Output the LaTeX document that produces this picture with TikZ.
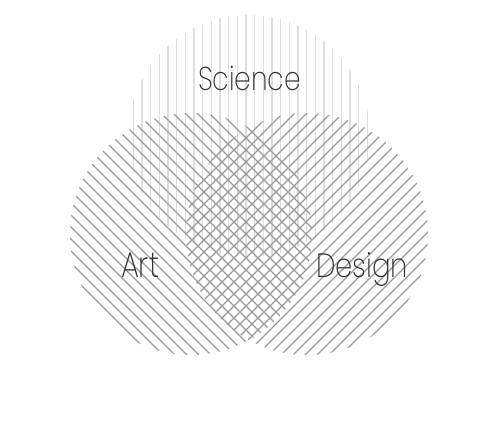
\documentclass[tikz,border=0pt]{standalone}
\usepackage{fontspec}
\usepackage{graphicx}
\newfontfamily\lblfont{Poppins}[UprightFont=* ExtraLight]
\definecolor{vline}{HTML}{DEDEDE}
\definecolor{dline}{HTML}{9A9A9A}
\definecolor{txt}{HTML}{333333}
\begin{document}
\begin{tikzpicture}[x=1pt,y=-1pt,
  vhatch/.style={draw=vline,line width=1.4pt},
  dhatch/.style={draw=dline,line width=1.1pt},
  lbl/.style={inner sep=0pt,outer sep=0pt,anchor=base west,text=txt}]
\useasboundingbox (0,0) rectangle (500,425);
% Science circle: vertical hatch
\begin{scope}
  \clip (249,136) circle[radius=121pt];
  \foreach \i in {-15,...,15}
    \draw[vhatch] ({246+\i*8.67},0) -- ({246+\i*8.67},300);
\end{scope}
% Art circle: "\" hatch
\begin{scope}
  \clip (191,234) circle[radius=121pt];
  \foreach \c in {-144,-132,...,228}
    \draw[dhatch] (50,{50+\c}) -- (340,{340+\c});
\end{scope}
% Design circle: "/" hatch
\begin{scope}
  \clip (307,234) circle[radius=121pt];
  \foreach \c in {360,372,...,732}
    \draw[dhatch] (160,{\c-160}) -- (450,{\c-450});
\end{scope}
\node[lbl] (science) at (198,90) {\resizebox{103pt}{24.5pt}{\lblfont Science}};
\node[lbl] (art) at (121,277) {\resizebox{38pt}{24.5pt}{\lblfont Art}};
\node[lbl] (design) at (316,277) {\resizebox{92pt}{25pt}{\lblfont Design}};
\end{tikzpicture}
\end{document}
